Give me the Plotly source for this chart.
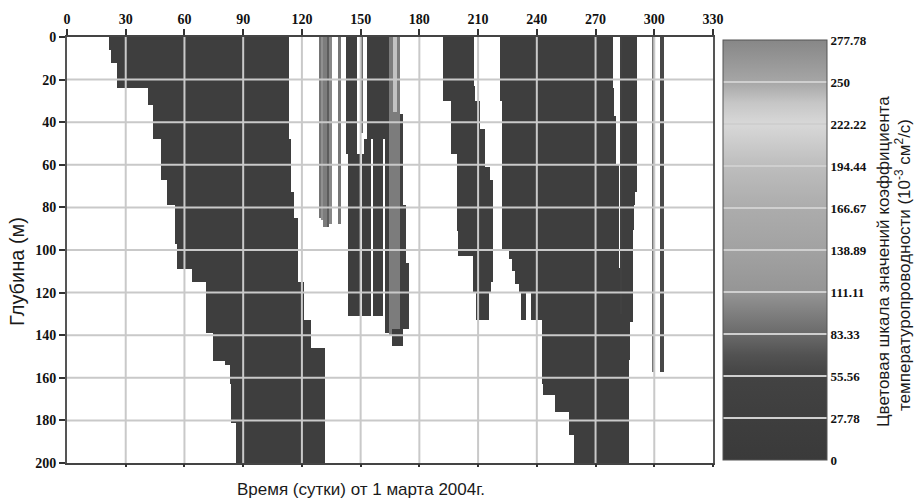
import numpy as np
import plotly.graph_objects as go

# ---------------- axis / scale data ----------------
X_TICKS = list(range(0, 331, 30))
Y_TICKS = list(range(0, 201, 20))
CB_TICKS = [0, 27.78, 55.56, 83.33, 111.11, 138.89, 166.67, 194.44, 222.22, 250, 277.78]
CB_LABELS = ["0", "27.78", "55.56", "83.33", "111.11", "138.89",
             "166.67", "194.44", "222.22", "250", "277.78"]

# ---------------- band profiles (depth breakpoints, left/right day edges) ----------------
B1_DEPTH = [0, 6, 12, 24, 32, 48, 67, 73, 79, 85, 97, 109, 115, 133, 139, 146, 152, 154, 163, 181, 200]
B1_LEFT = [21.6, 22.7, 25.5, 41.4, 43.9, 48.2, 50.8, 50.8, 55.0, 55.0, 55.9, 64.0, 71.2, 71.2, 74.3, 74.3, 80.7, 83.4, 84.0, 86.5]
B1_RIGHT = [113.7, 113.7, 113.7, 113.7, 113.7, 114.6, 114.6, 115.9, 115.9, 118.0, 118.0, 118.0, 120.9, 124.5, 124.5, 132.0, 132.0, 132.0, 132.0, 132.0]
B1_VALUE = 25

B2_DEPTH = [0, 23, 30, 43, 55, 61, 67, 91, 103, 115, 120, 133]
B2_LEFT = [192.1, 192.1, 196.0, 196.0, 199.2, 199.2, 199.2, 199.7, 207.4, 207.4, 209.1]
B2_RIGHT = [207.9, 208.7, 210.8, 213.3, 213.3, 215.8, 217.6, 217.6, 217.6, 216.7, 215.5]
B2_VALUE = 25

B3_DEPTH = [0, 24, 30, 37, 60, 100, 104, 108.5, 110, 116, 120, 133, 163, 168, 176, 187, 200]
B3_LEFT = [221.0, 221.0, 221.9, 221.9, 221.9, 226.0, 227.4, 227.4, 229.2, 231.2, 237.2, 242.3, 243.1, 249.4, 256.7, 258.9]
B3_RIGHT = [278.9, 279.7, 279.7, 280.6, 281.9, 281.9, 281.9, 282.6, 282.6, 282.6, 282.6, 282.6, 282.6, 282.6, 282.6, 282.6]
B3_VALUE = 25

B4_DEPTH = [0, 73, 79, 90.5, 134, 151.5, 200]
B4_LEFT = [282.6, 282.6, 282.6, 282.6, 282.6, 282.6]
B4_RIGHT = [290.8, 290.0, 289.4, 288.8, 287.7, 286.9]
B4_VALUE = 25

# ---------------- narrow stripes (day span, depth span, value) ----------------
ST_LEFT = [128.7, 129.9, 131.1, 132.8, 133.8, 138.4,
           142.3, 143.5, 150.0, 152.9, 151.5, 150.4, 156.3, 162.3,
           164.4, 166.3, 170.0, 170.0, 170.0, 166.0,
           232.1, 282.6, 298.9, 303.2]
ST_RIGHT = [129.9, 131.1, 132.8, 133.8, 135.7, 140.0,
            147.8, 149.8, 151.2, 164.4, 155.5, 155.5, 161.4, 164.4,
            170.0, 168.3, 171.3, 172.8, 174.5, 171.6,
            234.6, 283.6, 300.7, 305.2]
ST_TOP = [0, 0, 0, 0, 0, 0,
          0, 55, 0, 0, 48, 55, 48, 48,
          0, 0, 36, 79, 106, 137,
          120, 0, 0, 0]
ST_BOTTOM = [85, 86, 89, 89, 88, 88,
             55, 131, 45, 48, 55, 131, 131, 139,
             140, 35, 79, 106, 137, 145,
             133, 130, 157.7, 157.7]
ST_VALUE = [90, 108, 95, 75, 103, 92,
            25, 25, 85, 25, 25, 25, 25, 25,
            95, 200, 40, 40, 40, 25,
            25, 45, 92, 60]

# ---------------- grid construction ----------------
XC = np.arange(0.25, 330, 0.5)
YC = np.arange(0.25, 200, 0.5)
Z = np.full((len(YC), len(XC)), np.nan)


def fill_profile(depths, lefts, rights, value):
    for k in range(len(lefts)):
        rows = (YC >= depths[k]) & (YC < depths[k + 1])
        cols = (XC >= lefts[k]) & (XC < rights[k])
        Z[np.ix_(rows, cols)] = value


fill_profile(B1_DEPTH, B1_LEFT, B1_RIGHT, B1_VALUE)
fill_profile(B2_DEPTH, B2_LEFT, B2_RIGHT, B2_VALUE)
fill_profile(B3_DEPTH, B3_LEFT, B3_RIGHT, B3_VALUE)
fill_profile(B4_DEPTH, B4_LEFT, B4_RIGHT, B4_VALUE)
for l, r, t, b, v in zip(ST_LEFT, ST_RIGHT, ST_TOP, ST_BOTTOM, ST_VALUE):
    fill_profile([t, b], [l], [r], v)

z_list = [[None if np.isnan(v) else float(v) for v in row] for row in Z]

colorscale = [
    [0.0, "#3a3a3a"], [0.1, "#3e3e3e"], [0.2, "#434343"], [0.25, "#525252"],
    [0.3, "#6a6a6a"], [0.35, "#7f7f7f"], [0.4, "#959595"], [0.5, "#a2a2a2"],
    [0.6, "#acacac"], [0.7, "#bdbdbd"], [0.8, "#d8d8d8"], [0.85, "#c6c6c6"],
    [0.9, "#a6a6a6"], [1.0, "#878787"],
]

serif_bold = dict(family="Liberation Serif", size=14, color="#111111", weight="bold")

L, R, T, B = 67, 206, 37, 41
PW, PH = 919 - L - R, 504 - T - B


def px_x(p):
    return (p - L) / PW


def px_y(p):
    return (504 - B - p) / PH


fig = go.Figure()
fig.add_trace(go.Heatmap(
    x=XC, y=YC, z=z_list, zmin=0, zmax=277.78, zsmooth=False,
    colorscale=colorscale, hoverinfo="skip",
    colorbar=dict(
        thickness=104, thicknessmode="pixels", len=420, lenmode="pixels",
        x=px_x(723), xanchor="left", xpad=0,
        y=px_y(250), yanchor="middle", ypad=0,
        tickvals=CB_TICKS, ticktext=CB_LABELS,
        ticks="inside", ticklen=104, tickwidth=1.5, tickcolor="#cfcfcf",
        outlinewidth=1, outlinecolor="#555555",
        tickfont=dict(family="Liberation Serif", size=13, color="#111111", weight="bold"),
    ),
))

# helper trace for bottom tick marks
fig.add_trace(go.Scatter(x=[None], y=[None], xaxis="x2", yaxis="y", showlegend=False, hoverinfo="skip"))

shapes = []
for xv in X_TICKS[1:-1]:
    shapes.append(dict(type="line", xref="x", yref="y", x0=xv, x1=xv, y0=0, y1=200,
                       line=dict(color="#c9c9c9", width=2), layer="above"))
for yv in Y_TICKS[1:-1]:
    shapes.append(dict(type="line", xref="x", yref="y", x0=0, x1=330, y0=yv, y1=yv,
                       line=dict(color="#c9c9c9", width=2), layer="above"))

fig.update_layout(
    width=919, height=504,
    margin=dict(l=L, r=R, t=T, b=B, autoexpand=False),
    paper_bgcolor="white", plot_bgcolor="white",
    showlegend=False,
    shapes=shapes,
    xaxis=dict(
        side="top", range=[0, 330], tickvals=X_TICKS, ticks="outside", ticklen=6,
        tickwidth=1.5, tickcolor="#333333", tickfont=serif_bold,
        showgrid=False, zeroline=False, showline=True, linecolor="#444444",
        linewidth=1.5, mirror=True,
    ),
    xaxis2=dict(
        overlaying="x", side="bottom", range=[0, 330], tickvals=X_TICKS[1:],
        ticks="outside", ticklen=3, tickwidth=2, tickcolor="#333333",
        showticklabels=False, showgrid=False, zeroline=False, showline=False,
    ),
    yaxis=dict(
        range=[200, 0], tickvals=Y_TICKS, ticks="outside", ticklen=6,
        tickwidth=1.5, tickcolor="#333333", tickfont=serif_bold,
        showgrid=False, zeroline=False, showline=True, linecolor="#555555",
        linewidth=2, mirror=True,
    ),
    annotations=[
        dict(text="Глубина (м)", textangle=-90, xref="paper", yref="paper",
             x=px_x(17), y=px_y(272), xanchor="center", yanchor="middle",
             showarrow=False, font=dict(family="Liberation Sans", size=20, color="#1a1a1a")),
        dict(text="Время (сутки) от 1 марта 2004г.", xref="paper", yref="paper",
             x=px_x(361), y=px_y(489), xanchor="center", yanchor="middle",
             showarrow=False, font=dict(family="Liberation Sans", size=17, color="#1a1a1a")),
        dict(text="Цветовая шкала значений коэффициента", textangle=-90,
             xref="paper", yref="paper", x=px_x(883), y=px_y(262),
             xanchor="center", yanchor="middle", showarrow=False,
             font=dict(family="Liberation Sans", size=17, color="#1a1a1a")),
        dict(text="температуропроводности (10<sup>-3</sup> см<sup>2</sup>/с)", textangle=-90,
             xref="paper", yref="paper", x=px_x(903), y=px_y(265),
             xanchor="center", yanchor="middle", showarrow=False,
             font=dict(family="Liberation Sans", size=17, color="#1a1a1a")),
    ],
)

fig.write_html("out.html")
